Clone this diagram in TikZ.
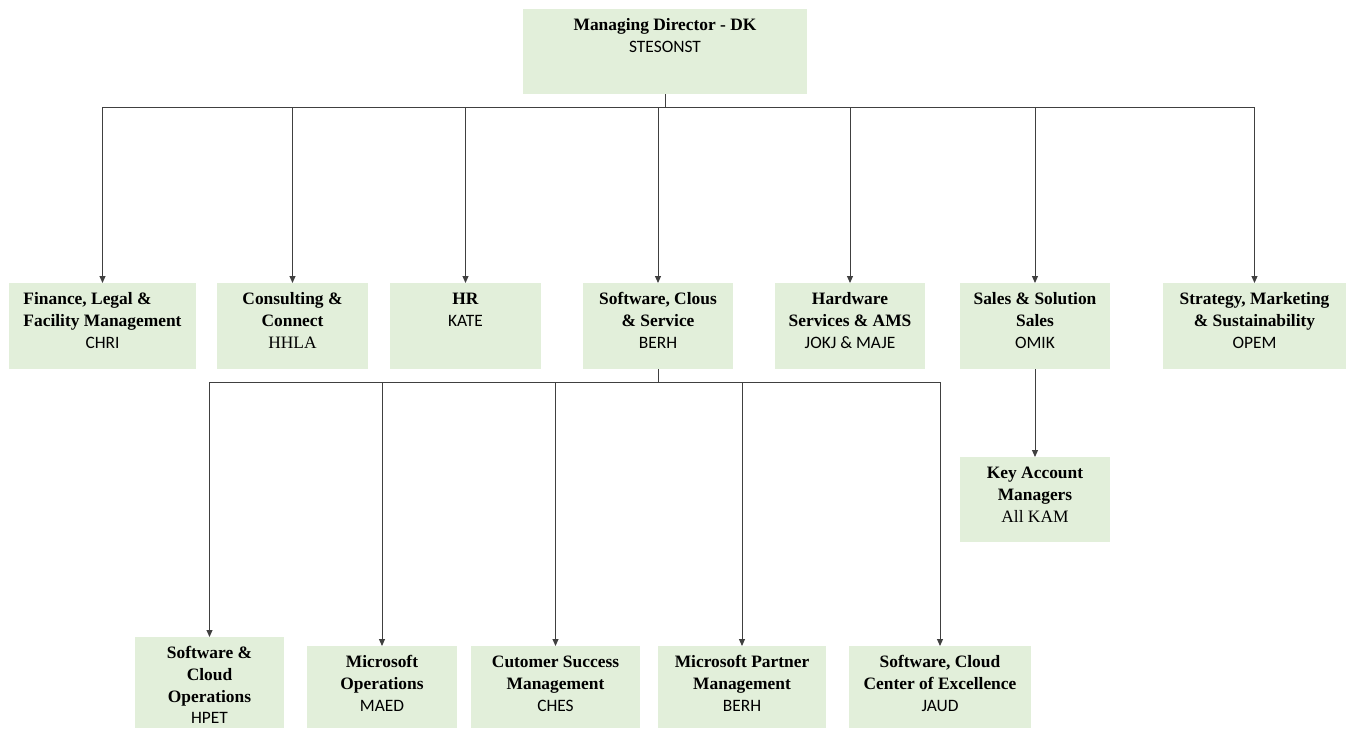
\documentclass[tikz,border=0pt]{standalone}
\usepackage{fontspec}
\setmainfont{Liberation Serif}
\newfontfamily\codefont{Carlito}
\usetikzlibrary{arrows.meta}
\definecolor{boxgreen}{HTML}{E2EFDA}
\definecolor{linegray}{HTML}{404040}

% one unit box: name, left, top, right, bottom, text
\newcommand\orgbox[6]{%
  \node[unitbox, minimum width={#4-#2}, minimum height={#5-#3}] (#1) at ({(#2+#4)/2},{(#3+#5)/2}) {};
  \node[boxtext] (#1-t) at ({(#2+#4)/2},{#3+6}) {\strut#6};
}
\newcommand\hd[1]{\textbf{#1}}
\newcommand\cd[1]{{\codefont #1}}
\newlength\widelinelen

\begin{document}
\begin{tikzpicture}[x=1pt,y=-1pt,
  unitbox/.style={fill=boxgreen, draw=none, inner sep=0pt, outer sep=0pt},
  boxtext/.style={align=center, anchor=north, inner sep=0pt,
    font=\fontsize{17.4}{21.8}\selectfont},
  conn/.style={draw=linegray, line width=1pt, -{Triangle[length=7pt,width=6pt]}}]
\useasboundingbox (0,0) rectangle (1353,729);

% top
\orgbox{md}{523}{9}{807}{94}{\hd{Managing Director - DK}\\\cd{STESONST}}

% department row
\orgbox{fin}{9}{283}{196}{369}{\settowidth\widelinelen{\hd{Facility Management}}%
  \makebox[\widelinelen][l]{\hd{Finance, Legal \&}}\\\hd{Facility Management}\\\cd{CHRI}}
\orgbox{con}{217}{283}{368}{369}{\hd{Consulting \&}\\\hd{Connect}\\HHLA}
\orgbox{hr}{390}{283}{541}{369}{\hd{HR}\\\cd{KATE}}
\orgbox{scs}{583}{283}{733}{369}{\hd{Software, Clous}\\\hd{\& Service}\\\cd{BERH}}
\orgbox{hw}{775}{283}{925}{369}{\hd{Hardware}\\\hd{Services \& AMS}\\\cd{JOKJ \& MAJE}}
\orgbox{sal}{960}{283}{1110}{369}{\hd{Sales \& Solution}\\\hd{Sales}\\\cd{OMIK}}
\orgbox{str}{1163}{283}{1346}{369}{\hd{Strategy, Marketing}\\\hd{\& Sustainability}\\\cd{OPEM}}

% below sales
\orgbox{kam}{960}{457}{1110}{542}{\hd{Key Account}\\\hd{Managers}\\All KAM}

% below software
\orgbox{sco}{135}{637}{284}{728}{\hd{Software \&}\\\hd{Cloud}\\\hd{Operations}\\\cd{HPET}}
\orgbox{mso}{307}{646}{457}{728}{\hd{Microsoft}\\\hd{Operations}\\\cd{MAED}}
\orgbox{cus}{471}{646}{640}{728}{\hd{Cutomer Success}\\\hd{Management}\\\cd{CHES}}
\orgbox{mpm}{658}{646}{826}{728}{\hd{Microsoft Partner}\\\hd{Management}\\\cd{BERH}}
\orgbox{coe}{849}{646}{1031}{728}{\hd{Software, Cloud}\\\hd{Center of Excellence}\\\cd{JAUD}}

% bus levels
\coordinate (bustop) at (0,107);
\coordinate (busmid) at (0,382);

% director to departments
\foreach \c in {fin,con,hr,scs,hw,sal,str}
  \draw[conn] (md.south) -- (md.south |- bustop) -| (\c.north);

% software department to its teams
\foreach \c in {sco,mso,cus,mpm,coe}
  \draw[conn] (scs.south) -- (scs.south |- busmid) -| (\c.north);

% sales to key account managers
\draw[conn] (sal.south) -- (kam.north);
\end{tikzpicture}
\end{document}
